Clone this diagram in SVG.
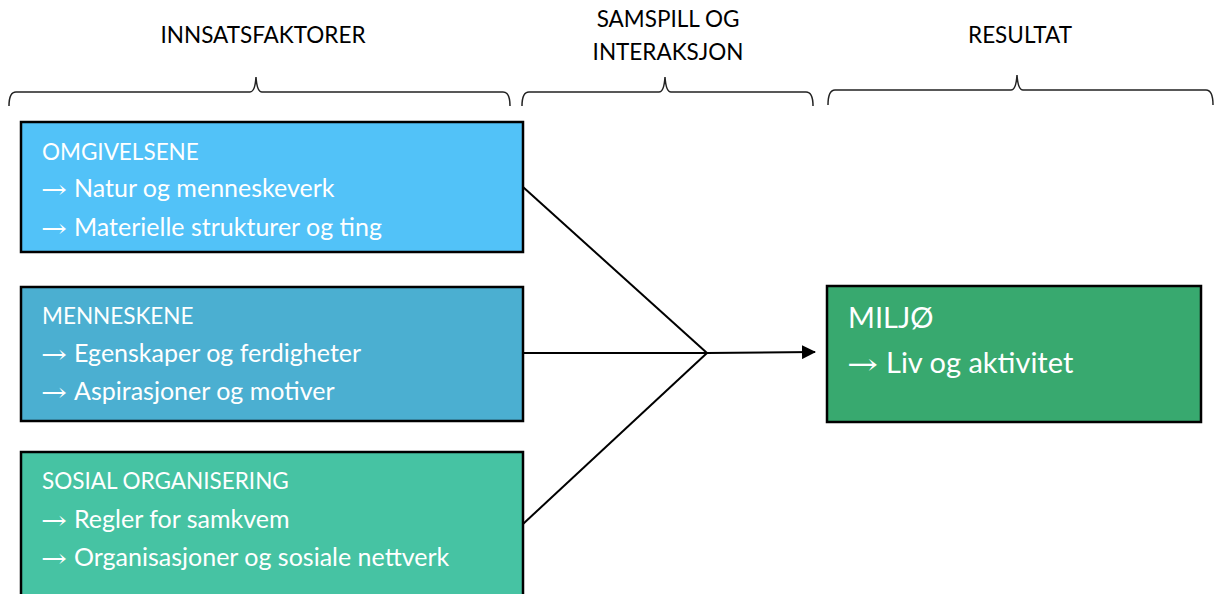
<svg xmlns="http://www.w3.org/2000/svg" width="1214" height="594" viewBox="0 0 1214 594">
<defs>
<style>
.hdr{font-family:Lato,"Open Sans","Liberation Sans",sans-serif;font-size:22.5px;fill:#000;text-anchor:middle}
.t{font-family:Lato,"Open Sans","Liberation Sans",sans-serif;fill:#fff}
.ar{font-family:"DejaVu Serif","Liberation Serif",serif;fill:#fff}
.ttl{font-size:22.5px}
.ln{font-size:25px}
.big{font-size:29px}
.box{stroke:#000;stroke-width:2.5}
.brace{fill:none;stroke:#222;stroke-width:1.5}
.con{fill:none;stroke:#000;stroke-width:2}
</style>
<marker id="ah" markerWidth="14" markerHeight="14" refX="13" refY="7" orient="auto" markerUnits="userSpaceOnUse" viewBox="0 0 14 14">
<path d="M0,0 L14,7 L0,14 z" fill="#000"/>
</marker>
</defs>
<g id="headers">
<text class="hdr" x="263" y="43">INNSATSFAKTORER</text>
<text class="hdr" x="668" y="27">SAMSPILL OG</text>
<text class="hdr" x="668" y="60">INTERAKSJON</text>
<text class="hdr" x="1020" y="43">RESULTAT</text>
</g>
<g id="braces">
<path class="brace" d="M9,106 Q9,92 16,92 L250,92 Q255,92 256,77 Q257,92 262,92 L503,92 Q510,92 510,106"/>
<path class="brace" d="M522,106 Q522,92 529,92 L659,92 Q664,92 665,77 Q666,92 671,92 L806,92 Q813,92 813,106"/>
<path class="brace" d="M828,105 Q828,90 835,90 L1011,90 Q1016,90 1017,75 Q1018,90 1023,90 L1206,90 Q1213,90 1213,105"/>
</g>
<g id="connectors">
<path class="con" d="M523,187 L707,353"/>
<path class="con" d="M523,353 L707,353"/>
<path class="con" d="M523,524 L707,353"/>
<path class="con" d="M707,353 L815,352" marker-end="url(#ah)"/>
</g>
<g id="omgivelsene">
<rect class="box" x="21" y="122" width="502" height="130" fill="#52c2f8"/>
<text class="t ttl" x="42" y="160">OMGIVELSENE</text>
<text class="ar ln" x="41" y="198" textLength="26" lengthAdjust="spacingAndGlyphs">→</text>
<text class="t ln" x="74" y="197">Natur og menneskeverk</text>
<text class="ar ln" x="41" y="237" textLength="26" lengthAdjust="spacingAndGlyphs">→</text>
<text class="t ln" x="74" y="236">Materielle strukturer og ting</text>
</g>
<g id="menneskene">
<rect class="box" x="21" y="287" width="502" height="134" fill="#4bafd1"/>
<text class="t ttl" x="42" y="324">MENNESKENE</text>
<text class="ar ln" x="41" y="363" textLength="26" lengthAdjust="spacingAndGlyphs">→</text>
<text class="t ln" x="74" y="362">Egenskaper og ferdigheter</text>
<text class="ar ln" x="41" y="401" textLength="26" lengthAdjust="spacingAndGlyphs">→</text>
<text class="t ln" x="74" y="400">Aspirasjoner og motiver</text>
</g>
<g id="sosial">
<rect class="box" x="21" y="452" width="502" height="150" fill="#46c3a3"/>
<text class="t ttl" x="42" y="489">SOSIAL ORGANISERING</text>
<text class="ar ln" x="41" y="529" textLength="26" lengthAdjust="spacingAndGlyphs">→</text>
<text class="t ln" x="74" y="528">Regler for samkvem</text>
<text class="ar ln" x="41" y="567" textLength="26" lengthAdjust="spacingAndGlyphs">→</text>
<text class="t ln" x="74" y="566">Organisasjoner og sosiale nettverk</text>
</g>
<g id="miljo">
<rect class="box" x="827" y="286" width="374" height="136" fill="#38a96f"/>
<text class="t big" x="848" y="328">MILJØ</text>
<text class="ar big" x="847" y="374" textLength="31" lengthAdjust="spacingAndGlyphs">→</text>
<text class="t big" x="886" y="373">Liv og aktivitet</text>
</g>
</svg>
